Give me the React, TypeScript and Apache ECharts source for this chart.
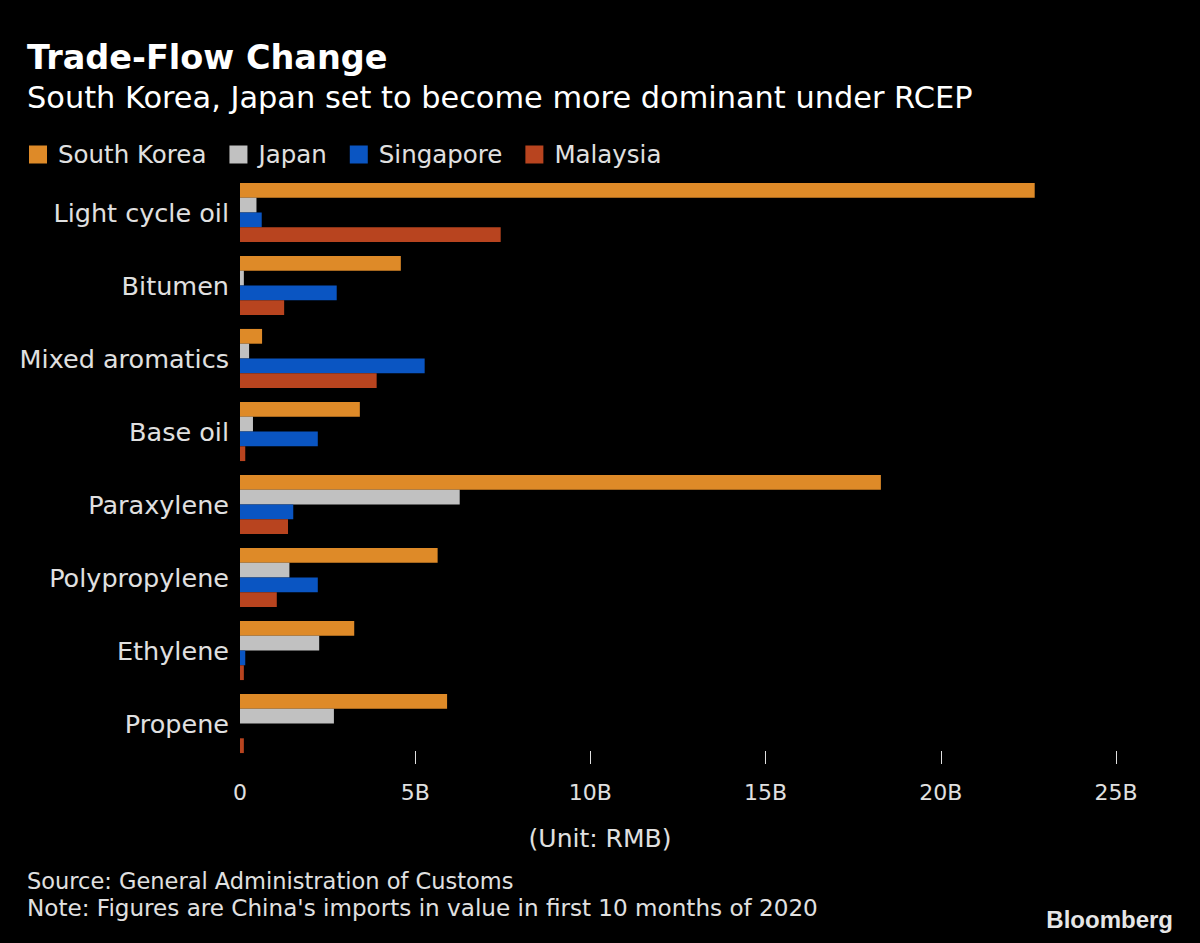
import React, { useEffect, useRef } from "react";
import * as echarts from "echarts";

const categories = [
  "Light cycle oil",
  "Bitumen",
  "Mixed aromatics",
  "Base oil",
  "Paraxylene",
  "Polypropylene",
  "Ethylene",
  "Propene",
];
const southKorea = [22.68, 4.59, 0.63, 3.42, 18.29, 5.64, 3.26, 5.91];
const japan = [0.47, 0.11, 0.26, 0.37, 6.27, 1.41, 2.26, 2.68];
const singapore = [0.62, 2.76, 5.27, 2.22, 1.52, 2.22, 0.15, 0];
const malaysia = [7.44, 1.26, 3.9, 0.15, 1.37, 1.05, 0.11, 0.11];
const tickValues = [0, 5, 10, 15, 20, 25];
const seriesNames = ["South Korea", "Japan", "Singapore", "Malaysia"];
const colors = ["#de8a28", "#c1c1c1", "#0a55c2", "#b8441f"];

const FONT = "DejaVu Sans";

export default function App() {
  const ref = useRef<HTMLDivElement>(null);
  useEffect(() => {
    if (!ref.current) return;
    const chart = echarts.init(ref.current, null, { renderer: "svg" });
    const data = [southKorea, japan, singapore, malaysia];
    chart.setOption({
      animation: false,
      backgroundColor: "#000000",
      textStyle: { fontFamily: FONT },
      legend: {
        left: 24,
        top: 137,
        icon: "rect",
        itemWidth: 18,
        itemHeight: 18,
        itemGap: 23,
        selectedMode: false,
        textStyle: { color: "#e0e0e0", fontSize: 24.5, fontFamily: FONT, padding: [0, 0, 0, 6] },
        data: seriesNames,
      },
      grid: { left: 240, right: 84, top: 176, bottom: 183, containLabel: false },
      xAxis: {
        type: "value",
        min: 0,
        max: 25,
        interval: 5,
        offset: -9,
        splitLine: { show: false },
        axisLine: { show: false },
        axisTick: {
          show: true,
          length: 13,
          lineStyle: { color: "#e0e0e0", width: 1 },
          customValues: tickValues.filter((v) => v > 0),
        },
        axisLabel: {
          color: "#e0e0e0",
          fontSize: 22,
          fontFamily: FONT,
          margin: 30,
          customValues: tickValues,
          formatter: (v: number) => (v === 0 ? "0" : `${v}B`),
        },
      },
      yAxis: {
        type: "category",
        inverse: true,
        data: categories,
        axisLine: { show: false },
        axisTick: { show: false },
        axisLabel: { color: "#e0e0e0", fontSize: 25.5, fontFamily: FONT, margin: 11 },
      },
      series: seriesNames.map((name, i) => ({
        name,
        type: "bar",
        data: data[i],
        barGap: "0%",
        barCategoryGap: "19%",
        itemStyle: { color: colors[i] },
      })),
      graphic: [
        {
          type: "text",
          left: 27,
          top: 40,
          style: { text: "Trade-Flow Change", fill: "#ffffff", fontSize: 33.5, fontWeight: "bold", fontFamily: FONT },
        },
        {
          type: "text",
          left: 27,
          top: 82,
          style: {
            text: "South Korea, Japan set to become more dominant under RCEP",
            fill: "#ffffff",
            fontSize: 30.4,
            fontFamily: FONT,
          },
        },
        {
          type: "text",
          x: 600,
          y: 838,
          style: {
            text: "(Unit: RMB)",
            fill: "#e0e0e0",
            fontSize: 25,
            fontFamily: FONT,
            textAlign: "center",
            textVerticalAlign: "middle",
          },
        },
        {
          type: "text",
          x: 27,
          y: 881,
          style: {
            text: "Source: General Administration of Customs",
            fill: "#e0e0e0",
            fontSize: 22.5,
            fontFamily: FONT,
            textVerticalAlign: "middle",
          },
        },
        {
          type: "text",
          x: 27,
          y: 908,
          style: {
            text: "Note: Figures are China's imports in value in first 10 months of 2020",
            fill: "#e0e0e0",
            fontSize: 23.1,
            fontFamily: FONT,
            textVerticalAlign: "middle",
          },
        },
        {
          type: "text",
          x: 1173,
          y: 919,
          style: {
            text: "Bloomberg",
            fill: "#e6e6e6",
            fontSize: 24,
            fontWeight: "bold",
            fontFamily: "Liberation Sans",
            textAlign: "right",
            textVerticalAlign: "middle",
          },
        },
      ],
    });
    return () => chart.dispose();
  }, []);
  return <div ref={ref} style={{ width: 1200, height: 943, position: "absolute", left: 0, top: 0 }} />;
}
